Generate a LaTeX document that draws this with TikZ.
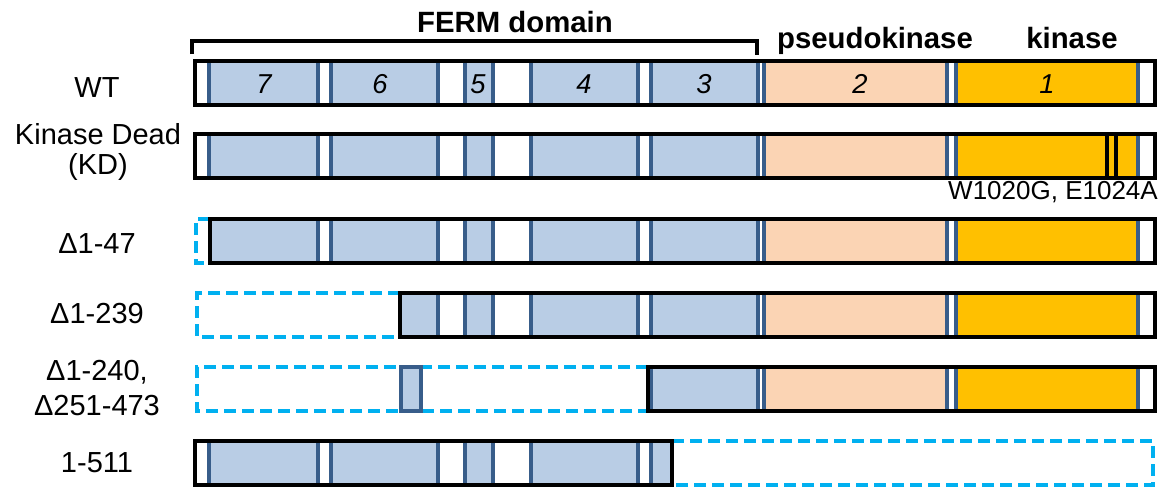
\documentclass[tikz,border=0pt]{standalone}
\usepackage{fontspec}
\setmainfont{Liberation Sans}
\definecolor{fermblue}{HTML}{B9CDE5}
\definecolor{pseudo}{HTML}{FBD4B4}
\definecolor{kin}{HTML}{FFC000}
\definecolor{sepblue}{HTML}{385D8A}
\definecolor{delcyan}{HTML}{00B0F0}
\tikzset{
  sepline/.style={draw=sepblue, line width=2.4pt},
  outline/.style={draw=black, line width=2.8pt, line join=miter},
  deleted/.style={draw=delcyan, line width=2.5pt, dash pattern=on 9pt off 4.5pt},
  rowlabel/.style={font=\fontsize{21.75pt}{26pt}\selectfont, anchor=base, align=center, inner sep=0pt},
  headlabel/.style={font=\bfseries\fontsize{22pt}{26pt}\selectfont, anchor=base, inner sep=0pt},
  domnum/.style={font=\itshape\fontsize{20.5pt}{24pt}\selectfont, anchor=base, inner sep=0pt},
  mutlabel/.style={font=\fontsize{19.5pt}{24pt}\selectfont, anchor=base, inner sep=0pt}
}
% domain segments of the full-length protein, bar top at y = #1
\newcommand\domainsegs[1]{%
  \foreach \a/\b in {209/318,331/438,465/493,531/638,651/758}{%
    \fill[fermblue] (\a,#1) rectangle (\b,#1+44);
    \draw[sepline] (\a,#1) -- (\a,#1+44) (\b,#1) -- (\b,#1+44);
  }%
  \fill[pseudo] (764,#1) rectangle (947,#1+44);
  \draw[sepline] (764,#1) -- (764,#1+44) (947,#1) -- (947,#1+44);
  \fill[kin] (956,#1) rectangle (1138,#1+44);
  \draw[sepline] (956,#1) -- (956,#1+44) (1138,#1) -- (1138,#1+44);
}
% construct bar: solid part from #2 to #3, bar top at #1
\newcommand\construct[3]{%
  \begin{scope}
    \clip (#2,#1) rectangle (#3,#1+44);
    \domainsegs{#1}
  \end{scope}
  \draw[outline] (#2,#1) rectangle (#3,#1+44);
}
\begin{document}
\begin{tikzpicture}[x=0.75pt,y=-0.75pt]
\useasboundingbox (0,0) rectangle (1174,487);

% headings and FERM bracket
\node[headlabel] (ferm) at (515,32) {FERM domain};
\node[headlabel] (pk) at (875,48) {pseudokinase};
\node[headlabel] (kn) at (1072,48) {kinase};
\coordinate (bl) at (192,54);
\coordinate (br) at (757,55);
\draw[line width=2.5pt] (bl) |- (ferm.south west |- 0,41) -- (br |- 0,41) -- (br);

% WT
\construct{61}{195}{1155}
\foreach \n/\x in {7/264,6/380,5/478,4/584,3/704,2/860,1/1047}
  \node[domnum] (d\n) at (\x,93) {\n};
\node[rowlabel] (wt) at (97,97) {WT};

% kinase dead
\construct{134}{195}{1155}
\draw[line width=2.6pt] (1107,134) -- (1107,178) (1116,134) -- (1116,178);
\node[rowlabel] (kd1) at (98,144) {Kinase Dead};
\node[rowlabel] (kd2) at (98,174) {(KD)};
\node[mutlabel] (mut) at (1053,199) {W1020G, E1024A};

% delta 1-47
\draw[deleted] (210,219) -- (196,219) -- (196,263) -- (210,263);
\construct{219}{210}{1155}
\node[rowlabel] (d47) at (97,253) {Δ1-47};

% delta 1-239
\draw[deleted] (400,293) -- (197,293) -- (197,337) -- (400,337);
\construct{293}{400}{1155}
\node[rowlabel] (d239) at (97,323) {Δ1-239};

% delta 1-240, delta 251-473
\draw[deleted] (648,367) -- (197,367) -- (197,411) -- (648,411);
\filldraw[fill=fermblue, draw=sepblue, line width=2.6pt] (401,367) rectangle (421,411);
\construct{367}{648}{1155}
\node[rowlabel] (d240) at (97,380) {Δ1-240,};
\node[rowlabel] (d251) at (97,415) {Δ251-473};

% 1-511
\draw[deleted] (672,441) -- (1153,441) -- (1153,485) -- (672,485);
\construct{441}{195}{672}
\node[rowlabel] (c511) at (97,472) {1-511};
\end{tikzpicture}
\end{document}
